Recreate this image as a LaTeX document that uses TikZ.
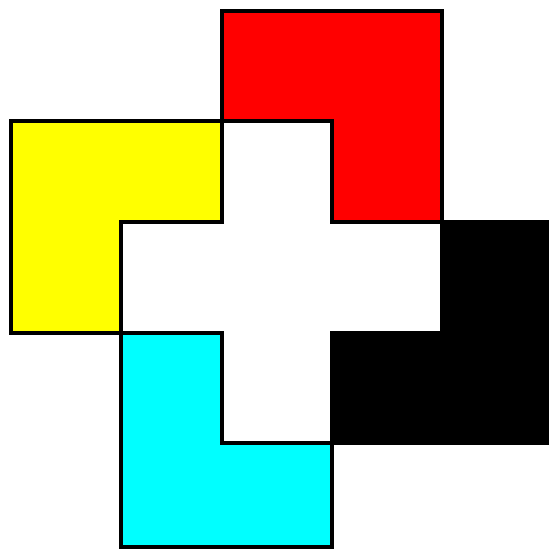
\documentclass[tikz,border=0pt]{standalone}
\usepackage{tikz}
\definecolor{pieceRed}{RGB}{255,0,0}
\definecolor{pieceYellow}{RGB}{255,255,0}
\definecolor{pieceCyan}{RGB}{0,255,255}

\tikzset{
    piece/.style={draw=black, line width=3.6pt, line join=miter}
}

\begin{document}
\begin{tikzpicture}[x=1pt, y=-1pt]
\useasboundingbox (0,0) rectangle (550,549);

% Red L (top)
\filldraw[piece, fill=pieceRed] (222,11) -- (442,11) -- (442,222) -- (332,222)
    -- (332,121) -- (222,121) -- cycle;

% Yellow L (left)
\filldraw[piece, fill=pieceYellow] (11,121) -- (222,121) -- (222,222) -- (121,222)
    -- (121,333) -- (11,333) -- cycle;

% Black L (right)
\filldraw[piece, fill=black] (442,222) -- (547,222) -- (547,443) -- (332,443)
    -- (332,333) -- (442,333) -- cycle;

% Cyan L (bottom)
\filldraw[piece, fill=pieceCyan] (121,333) -- (222,333) -- (222,443) -- (332,443)
    -- (332,547) -- (121,547) -- cycle;

\end{tikzpicture}
\end{document}
